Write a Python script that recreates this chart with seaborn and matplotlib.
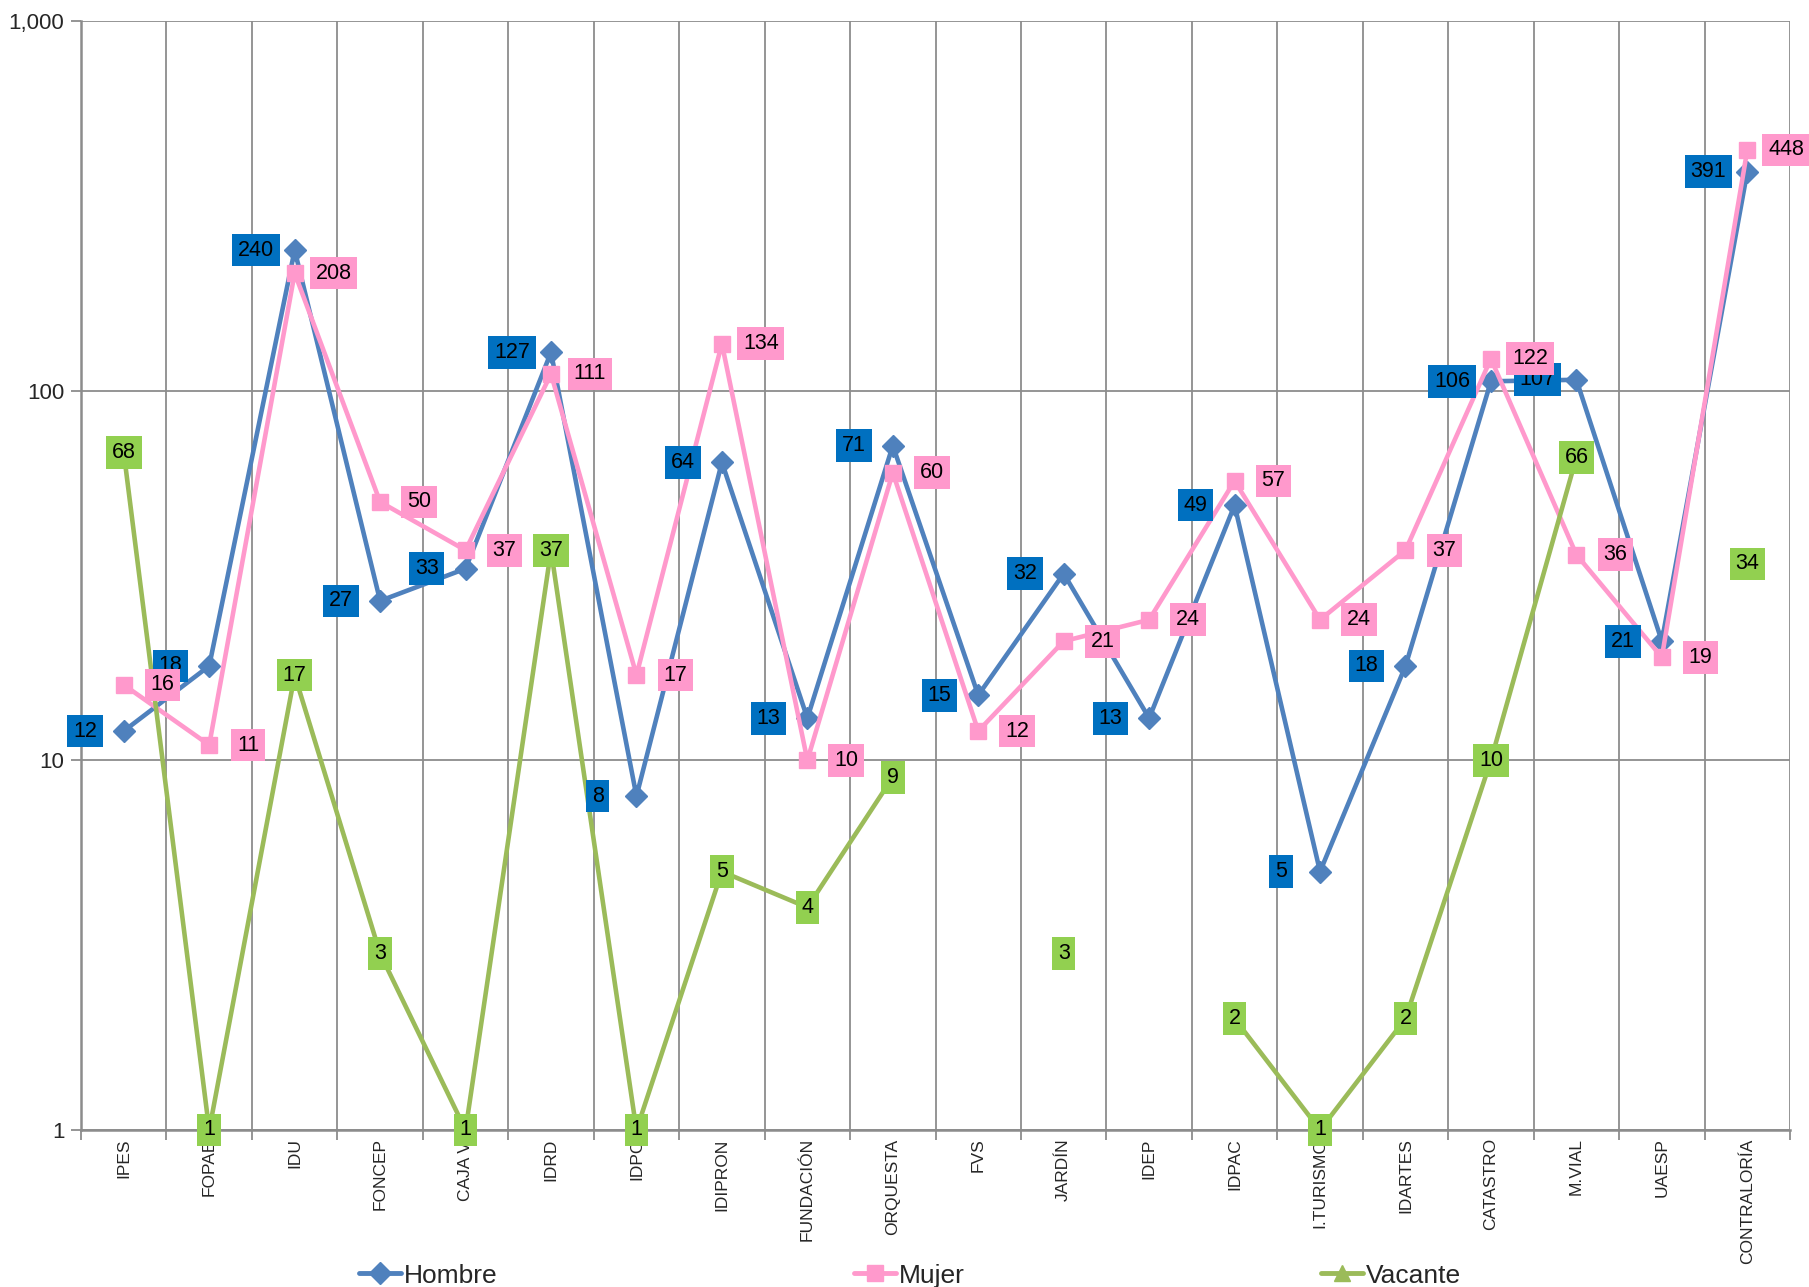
import numpy as np
import pandas as pd
import seaborn as sns
import matplotlib.pyplot as plt
from matplotlib.lines import Line2D
from matplotlib.ticker import FixedLocator, FuncFormatter, NullLocator

categories = ["IPES", "FOPAE", "IDU", "FONCEP", "CAJA V.", "IDRD", "IDPC", "IDIPRON",
              "FUNDACIÓN", "ORQUESTA", "FVS", "JARDÍN", "IDEP", "IDPAC", "I.TURISMO",
              "IDARTES", "CATASTRO", "M.VIAL", "UAESP", "CONTRALORÍA"]
hombre = [12, 18, 240, 27, 33, 127, 8, 64, 13, 71, 15, 32, 13, 49, 5, 18, 106, 107, 21, 391]
mujer = [16, 11, 208, 50, 37, 111, 17, 134, 10, 60, 12, 21, 24, 57, 24, 37, 122, 36, 19, 448]
vacante = [68, 1, 17, 3, 1, 37, 1, 5, 4, 9, np.nan, 3, np.nan, 2, 1, 2, 10, 66, np.nan, 34]
series_names = ["Hombre", "Mujer", "Vacante"]

line_colors = ["#4F81BD", "#FF99CC", "#9BBB59"]
box_colors = ["#0070C0", "#FF99CC", "#92D050"]
markers = ["D", "s", "^"]

sns.set_theme(style="white")
plt.rcParams['font.family'] = ['Liberation Sans', 'DejaVu Sans']

fig = plt.figure(figsize=(18.09, 12.87), dpi=100)
ax = fig.add_axes([0.0448, 0.122, 0.9447, 0.8617])
ax.set_yscale('log')

pos = np.arange(len(categories))
values = [hombre, mujer, vacante]
for i, (name, vals) in enumerate(zip(series_names, values)):
    arr = np.array(vals, dtype=float)
    seg = np.cumsum(np.isnan(arr))
    df = pd.DataFrame({"x": pos, "y": arr, "seg": seg}).dropna()
    sns.lineplot(data=df, x="x", y="y", units="seg", estimator=None, ax=ax,
                 color=line_colors[i], lw=3.3, marker=markers[i], markersize=11.5,
                 markeredgecolor=line_colors[i], markeredgewidth=1, legend=False,
                 sort=False, zorder=2 + i)

offsets = [-28, 28, 0]
for i, vals in enumerate(values):
    for x, v in zip(pos, vals):
        if np.isnan(v):
            continue
        ax.annotate(f"{int(v)}", (x, v), xytext=(offsets[i], 0), textcoords="offset points",
                    ha="center", va="center", fontsize=15.5, color="black",
                    bbox=dict(boxstyle="square,pad=0.27", fc=box_colors[i], ec="none"),
                    zorder=10, annotation_clip=False)

ax.set_xlim(-0.5, len(categories) - 0.5)
ax.set_ylim(1, 1000)
ax.set_xlabel("")
ax.set_ylabel("")

ax.xaxis.set_major_locator(FixedLocator(pos))
ax.set_xticklabels(categories, rotation=90, fontsize=12.5, va="top", ha="center")
ax.xaxis.set_minor_locator(FixedLocator(np.arange(-0.5, len(categories), 1)))
ax.tick_params(axis="x", which="major", length=0, pad=6)
ax.tick_params(axis="x", which="minor", length=7, color="#8c8c8c", width=1.3, bottom=True, direction="out")

ax.yaxis.set_major_locator(FixedLocator([1, 10, 100, 1000]))
ax.yaxis.set_minor_locator(NullLocator())
ax.yaxis.set_major_formatter(FuncFormatter(lambda v, p: f"{int(v):,}"))
ax.tick_params(axis="y", which="major", length=7, color="#8c8c8c", width=1.3, left=True,
               direction="out", labelsize=16, pad=5)

ax.grid(False)
ax.grid(which="minor", axis="x", color="#8c8c8c", lw=1.3)
ax.grid(which="major", axis="y", color="#8c8c8c", lw=1.3)
ax.set_axisbelow(True)
for s in ["top", "right"]:
    ax.spines[s].set_visible(False)
for s in ["left", "bottom"]:
    ax.spines[s].set_color("#8c8c8c")
    ax.spines[s].set_linewidth(1.8)

handles = [Line2D([], [], color=line_colors[i], lw=3.5, marker=markers[i], markersize=11,
                  markeredgecolor=line_colors[i]) for i in range(3)]
fig.legend(handles, series_names, loc="lower center", bbox_to_anchor=(0.503, -0.019), ncol=3,
           frameon=False, fontsize=19, columnspacing=13.5, handlelength=1.6, handletextpad=0.1)

fig.savefig("out.png", dpi=100)
